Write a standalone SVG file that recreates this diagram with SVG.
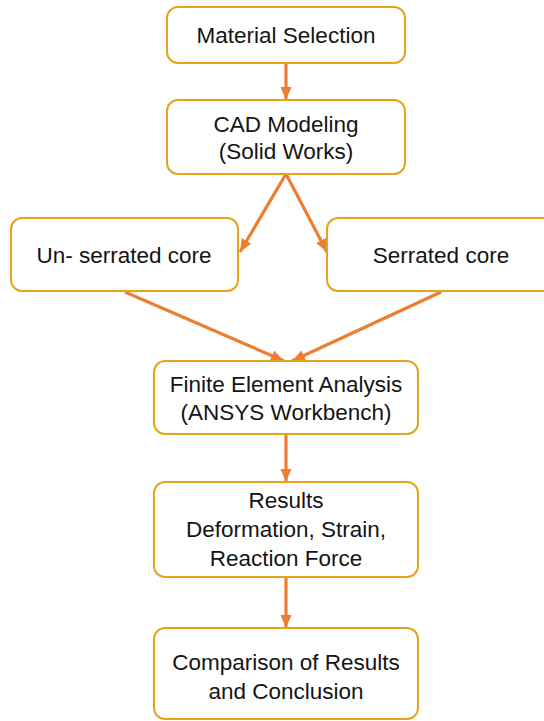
<svg xmlns="http://www.w3.org/2000/svg" width="544" height="721" viewBox="0 0 544 721">
<defs>
<style>
.box{fill:#fff;stroke:#E8A31C;stroke-width:2}
.t{font-family:"Liberation Sans",Arial,sans-serif;font-size:22.5px;fill:#141414;text-anchor:middle}
.c{stroke:#ED7D31;stroke-width:3.2;fill:none;marker-end:url(#ah)}
</style>
<marker id="ah" markerUnits="userSpaceOnUse" markerWidth="14" markerHeight="14" viewBox="0 0 14 14" refX="13" refY="7" orient="auto">
<path d="M0,1.5 L13,7 L0,12.5 Z" fill="#ED7D31"/>
</marker>
</defs>
<rect width="544" height="721" fill="#fff"/>
<g id="connectors">
<line class="c" x1="286" y1="64" x2="286" y2="100"/>
<line class="c" x1="286" y1="174" x2="240" y2="252"/>
<line class="c" x1="286" y1="174" x2="327" y2="252"/>
<line class="c" x1="125" y1="292" x2="284" y2="361"/>
<line class="c" x1="441" y1="292" x2="292" y2="361"/>
<line class="c" x1="286" y1="434" x2="286" y2="482"/>
<line class="c" x1="286" y1="577" x2="286" y2="628"/>
</g>
<g id="material">
<rect class="box" x="167" y="7" width="238" height="56" rx="11"/>
<text class="t" x="286" y="43">Material Selection</text>
</g>
<g id="cad">
<rect class="box" x="167" y="100" width="238" height="74" rx="11"/>
<text class="t" x="286" y="132">CAD Modeling</text>
<text class="t" x="286" y="159">(Solid Works)</text>
</g>
<g id="unserrated">
<rect class="box" x="11" y="218" width="227" height="73" rx="11"/>
<text class="t" x="124" y="263">Un- serrated core</text>
</g>
<g id="serrated">
<rect class="box" x="327" y="218" width="228" height="73" rx="11"/>
<text class="t" x="441" y="263">Serrated core</text>
</g>
<g id="fea">
<rect class="box" x="154" y="361" width="264" height="73" rx="11"/>
<text class="t" x="286" y="392">Finite Element Analysis</text>
<text class="t" x="286" y="420">(ANSYS Workbench)</text>
</g>
<g id="results">
<rect class="box" x="154" y="482" width="264" height="95" rx="11"/>
<text class="t" x="286" y="508">Results</text>
<text class="t" x="286" y="537">Deformation, Strain,</text>
<text class="t" x="286" y="566">Reaction Force</text>
</g>
<g id="comparison">
<rect class="box" x="154" y="628" width="264" height="91" rx="11"/>
<text class="t" x="286" y="670">Comparison of Results</text>
<text class="t" x="286" y="699">and Conclusion</text>
</g>
</svg>
